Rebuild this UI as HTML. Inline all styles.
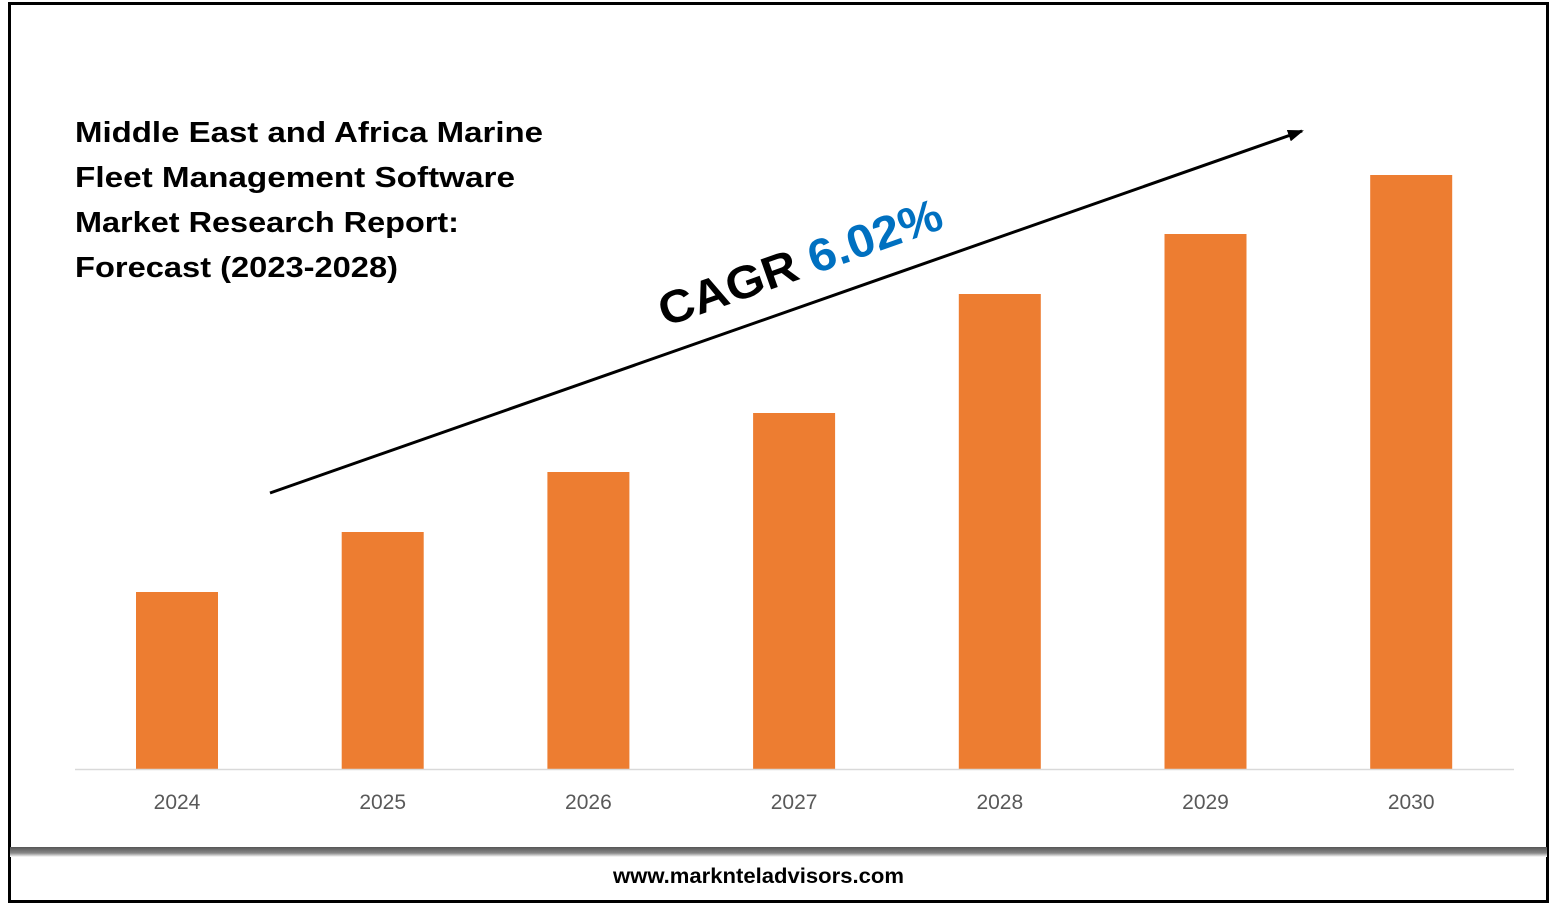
<!DOCTYPE html>
<html><head><meta charset="utf-8"><style>
html,body{margin:0;padding:0;background:#fff;}
svg{display:block;font-family:"Liberation Sans",Arial,sans-serif;}
</style></head><body>
<svg id="c" width="1557" height="907" viewBox="0 0 1557 907">
<defs>
<linearGradient id="sh" x1="0" y1="0" x2="0" y2="1">
<stop offset="0" stop-color="#555"/><stop offset="0.6" stop-color="#888"/><stop offset="1" stop-color="#fff"/>
</linearGradient>
<marker id="ah" markerWidth="16" markerHeight="12" refX="14" refY="6" orient="auto" markerUnits="userSpaceOnUse" viewBox="0 0 16 12"><path d="M0,0 L16,6 L0,12 z" fill="#000"/></marker>
</defs>
<rect x="9.5" y="3.5" width="1538" height="898" fill="#fff" stroke="#000" stroke-width="3"/>
<rect x="10" y="847" width="1537" height="10" fill="url(#sh)"/>
<g font-weight="bold" font-size="29" fill="#000">
<text x="75" y="142" textLength="468" lengthAdjust="spacingAndGlyphs">Middle East and Africa Marine</text>
<text x="75" y="187" textLength="440" lengthAdjust="spacingAndGlyphs">Fleet Management Software</text>
<text x="75" y="232" textLength="384" lengthAdjust="spacingAndGlyphs">Market Research Report:</text>
<text x="75" y="277" textLength="323" lengthAdjust="spacingAndGlyphs">Forecast (2023-2028)</text>
</g>
<line x1="270" y1="493" x2="1302" y2="131" stroke="#000" stroke-width="3" marker-end="url(#ah)"/>
<text transform="translate(665,327) rotate(-19.5)" font-size="46" font-weight="bold" textLength="298" lengthAdjust="spacingAndGlyphs"><tspan fill="#000">CAGR </tspan><tspan fill="#0070C0">6.02%</tspan></text>
<g id="bars"></g>
<line x1="75" y1="769.5" x2="1514" y2="769.5" stroke="#d9d9d9" stroke-width="1.5"/>
<g id="labels"></g>
<text x="613" y="883" font-size="21" font-weight="bold" fill="#000" textLength="291" lengthAdjust="spacingAndGlyphs">www.marknteladvisors.com</text>
</svg>
<script>
const categories = ["2024","2025","2026","2027","2028","2029","2030"];
const values = [17.7, 23.7, 29.7, 35.6, 47.5, 53.5, 59.4];
const ns = "http://www.w3.org/2000/svg";
const baseY = 769, pxPerUnit = 10, x0 = 177, step = 205.7, bw = 82;
const xScale = i => x0 + i * step;
const yScale = v => baseY - v * pxPerUnit;
const bars = document.getElementById('bars'), labels = document.getElementById('labels');
categories.forEach((c, i) => {
  const r = document.createElementNS(ns, 'rect');
  r.setAttribute('x', xScale(i) - bw / 2);
  r.setAttribute('y', yScale(values[i]));
  r.setAttribute('width', bw);
  r.setAttribute('height', baseY - yScale(values[i]));
  r.setAttribute('fill', '#ED7D31');
  
  
  bars.appendChild(r);
  const t = document.createElementNS(ns, 'text');
  t.setAttribute('x', xScale(i));
  t.setAttribute('y', 809);
  t.setAttribute('text-anchor', 'middle');
  t.setAttribute('font-size', '21');
  t.setAttribute('fill', '#595959');
  t.textContent = c;
  
  
  labels.appendChild(t);
});
</script>
</body></html>
